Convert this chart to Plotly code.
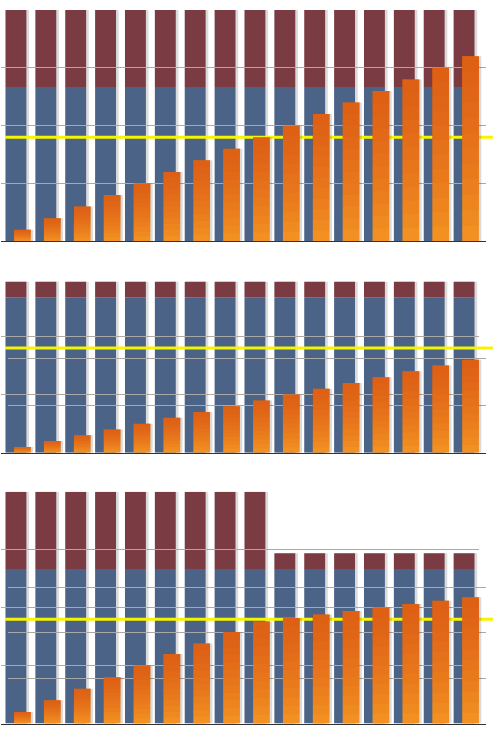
import plotly.graph_objects as go

# ---------------- data ----------------
categories = ["1", "2", "3", "4", "5", "6", "7", "8",
              "9", "10", "11", "12", "13", "14", "15", "16"]

p1_blue = [66.7, 66.7, 66.7, 66.7, 66.7, 66.7, 66.7, 66.7,
           66.7, 66.7, 66.7, 66.7, 66.7, 66.7, 66.7, 66.7]
p1_red = [33.3, 33.3, 33.3, 33.3, 33.3, 33.3, 33.3, 33.3,
          33.3, 33.3, 33.3, 33.3, 33.3, 33.3, 33.3, 33.3]
p1_orange = [5, 10, 15, 20, 25, 30, 35, 40, 45, 50, 55, 60, 65, 70, 75, 80]

p2_blue = [66.7, 66.7, 66.7, 66.7, 66.7, 66.7, 66.7, 66.7,
           66.7, 66.7, 66.7, 66.7, 66.7, 66.7, 66.7, 66.7]
p2_red = [6.8, 6.8, 6.8, 6.8, 6.8, 6.8, 6.8, 6.8,
          6.8, 6.8, 6.8, 6.8, 6.8, 6.8, 6.8, 6.8]
p2_orange = [2.5, 5, 7.5, 10, 12.5, 15, 17.5, 20,
             22.5, 25, 27.5, 30, 32.5, 35, 37.5, 40]

p3_blue = [66.7, 66.7, 66.7, 66.7, 66.7, 66.7, 66.7, 66.7,
           66.7, 66.7, 66.7, 66.7, 66.7, 66.7, 66.7, 66.7]
p3_red = [33.3, 33.3, 33.3, 33.3, 33.3, 33.3, 33.3, 33.3,
          33.3, 6.7, 6.7, 6.7, 6.7, 6.7, 6.7, 6.7]
p3_orange = [5, 10, 15, 20, 25, 30, 34.5, 39.5,
             44, 45.5, 47, 48.5, 50, 51.5, 53, 54.5]

thresholds = [45, 45, 45]
y_max = [100, 75, 100]
grid_main = [[0, 25, 50, 75, 100], [0, 25, 50, 75], [0, 25, 50, 75, 100]]
grid_second = [[25, 50, 75, 100], [20.2, 40.4], [19.4, 39.3, 58.7]]

panels = [
    (p1_blue, p1_red, p1_orange),
    (p2_blue, p2_red, p2_orange),
    (p3_blue, p3_red, p3_orange),
]

# ---------------- style / geometry ----------------
W, H = 500, 732
BLUE = "#4b6387"
RED = "#7a3c42"
ORANGE_LIGHT = "#f29022"
ORANGE_SHADE = "rgba(212,58,18,0.068)"
GRADIENT_STEPS = 12
YELLOW = "#f7f400"
GRID = "#a9a9a9"
SHADOW = "rgba(0,0,0,0.14)"
CLEAR = "rgba(0,0,0,0)"

panel_top = [10, 278.3, 491.7]
panel_bottom = [241.3, 452.7, 723.5]
dom_wide = [1 / W, 479 / W]
dom_orange = [7.5 / W, 485.5 / W]
dom_yellow = [5 / W, 493 / W]

fig = go.Figure()
layout = {}


def ax_name(i, kind):
    return kind if i == 1 else f"{kind}{i}"


for p, (blue, red, orange) in enumerate(panels):
    ydom = [1 - panel_bottom[p] / H, 1 - panel_top[p] / H]
    base_i = 4 * p + 1
    iw, ig, iy, io = base_i, base_i + 1, base_i + 2, base_i + 3
    totals = [b + r for b, r in zip(blue, red)]

    # subplot W: wide stacked bars (with soft shadow)
    xw, yw = ax_name(iw, "x"), ax_name(iw, "y")
    fig.add_trace(go.Bar(x=categories, y=totals, xaxis=xw, yaxis=yw,
                         width=0.7, offset=-0.35 + 0.09,
                         marker=dict(color=SHADOW, line=dict(width=0)),
                         showlegend=False, hoverinfo="skip"))
    fig.add_trace(go.Bar(x=categories, y=blue, xaxis=xw, yaxis=yw,
                         width=0.7, offset=-0.35,
                         marker=dict(color=BLUE, line=dict(width=0)),
                         showlegend=False))
    fig.add_trace(go.Bar(x=categories, y=red, base=blue, xaxis=xw, yaxis=yw,
                         width=0.7, offset=-0.35,
                         marker=dict(color=RED, line=dict(width=0)),
                         showlegend=False))
    layout[ax_name(iw, "xaxis")] = dict(domain=dom_wide, anchor=yw, type="category",
                                        range=[-0.5, 15.5], showgrid=False,
                                        showticklabels=False, ticks="", zeroline=False,
                                        showline=True, linecolor="#333333", linewidth=1)
    layout[ax_name(iw, "yaxis")] = dict(domain=ydom, anchor=xw, range=[0, y_max[p]],
                                        showgrid=False, showticklabels=False,
                                        ticks="", zeroline=False)

    # subplot G: main gridlines drawn above the wide bars (transparent copy of bars)
    xg, yg = ax_name(ig, "x"), ax_name(ig, "y")
    fig.add_trace(go.Bar(x=categories, y=totals, xaxis=xg, yaxis=yg,
                         width=0.7, offset=-0.35,
                         marker=dict(color=CLEAR, line=dict(width=0)),
                         showlegend=False, hoverinfo="skip"))
    layout[ax_name(ig, "xaxis")] = dict(domain=dom_wide, anchor=yg, type="category",
                                        range=[-0.5, 15.5],
                                        showgrid=False, showticklabels=False,
                                        ticks="", zeroline=False, showline=False)
    layout[ax_name(ig, "yaxis")] = dict(domain=ydom, anchor=xg, range=[0, y_max[p]],
                                        tickvals=grid_main[p], showgrid=True,
                                        gridcolor=GRID, gridwidth=1,
                                        showticklabels=False, ticks="", zeroline=False)

    # subplot Y: yellow threshold line
    xy_, yy_ = ax_name(iy, "x"), ax_name(iy, "y")
    fig.add_trace(go.Scatter(x=[0, 1], y=[thresholds[p], thresholds[p]],
                             xaxis=xy_, yaxis=yy_, mode="lines",
                             line=dict(color=YELLOW, width=3),
                             showlegend=False, hoverinfo="skip"))
    layout[ax_name(iy, "xaxis")] = dict(domain=dom_yellow, anchor=yy_, range=[0, 1],
                                        visible=False)
    layout[ax_name(iy, "yaxis")] = dict(domain=ydom, anchor=xy_, range=[0, y_max[p]],
                                        visible=False)

    # subplot O: orange bars (vertical gradient) with secondary gridlines
    xo, yo = ax_name(io, "x"), ax_name(io, "y")
    fig.add_trace(go.Bar(x=categories, y=orange, xaxis=xo, yaxis=yo,
                         width=0.56, offset=-0.28 + 0.08,
                         marker=dict(color=SHADOW, line=dict(width=0)),
                         showlegend=False, hoverinfo="skip"))
    fig.add_trace(go.Bar(x=categories, y=orange, xaxis=xo, yaxis=yo,
                         width=0.56, offset=-0.28,
                         marker=dict(color=ORANGE_LIGHT, line=dict(width=0)),
                         showlegend=False))
    for k in range(1, GRADIENT_STEPS):
        frac = k / GRADIENT_STEPS
        fig.add_trace(go.Bar(x=categories,
                             y=[v * (1 - frac) for v in orange],
                             base=[v * frac for v in orange],
                             xaxis=xo, yaxis=yo,
                             width=0.56, offset=-0.28,
                             marker=dict(color=ORANGE_SHADE, line=dict(width=0)),
                             showlegend=False, hoverinfo="skip"))
    layout[ax_name(io, "xaxis")] = dict(domain=dom_orange, anchor=yo, type="category",
                                        range=[-0.5, 15.5], showgrid=False,
                                        showticklabels=False, ticks="", zeroline=False,
                                        showline=True, linecolor="#333333", linewidth=1)
    layout[ax_name(io, "yaxis")] = dict(domain=ydom, anchor=xo, range=[0, y_max[p]],
                                        tickvals=grid_second[p], showgrid=True,
                                        gridcolor=GRID, gridwidth=1,
                                        showticklabels=False, ticks="", zeroline=False)

fig.update_layout(
    width=W, height=H,
    margin=dict(l=0, r=0, t=0, b=0),
    paper_bgcolor="white",
    plot_bgcolor="rgba(0,0,0,0)",
    barmode="overlay",
    showlegend=False,
    **layout,
)

fig.write_html("out.html")
